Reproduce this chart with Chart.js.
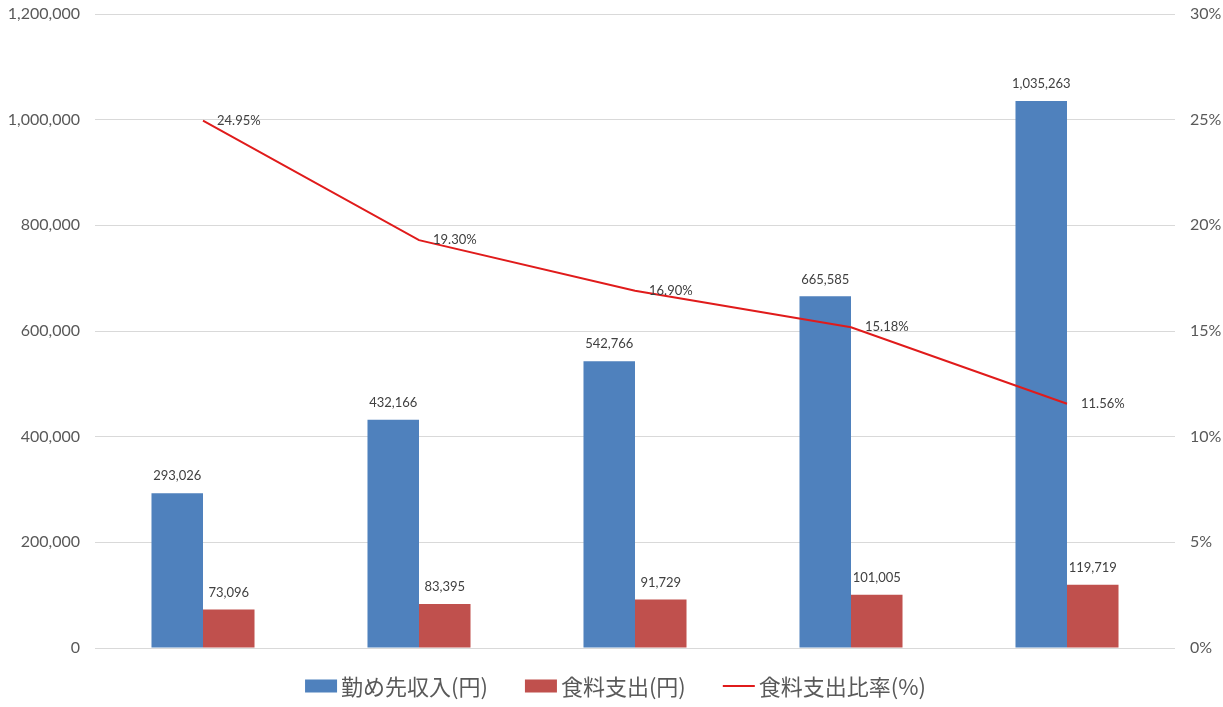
<!DOCTYPE html>
<html lang="ja">
<head>
  <meta charset="UTF-8">
  <title>勤め先収入と食料支出</title>
  <script src="https://cdn.jsdelivr.net/npm/chart.js"></script>
  <style>
    html, body { margin: 0; padding: 0; background: #fff; }
    canvas { display: block; }
  </style>
</head>
<body>
<canvas id="chart" width="1223" height="707"></canvas>
<script>
  // data
  const categories = ['I', 'II', 'III', 'IV', 'V'];
  const incomeYen = [293026, 432166, 542766, 665585, 1035263];
  const foodYen = [73096, 83395, 91729, 101005, 119719];
  const foodRatio = [24.95, 19.30, 16.90, 15.18, 11.56];
  const leftTicks = [0, 200000, 400000, 600000, 800000, 1000000, 1200000];
  const rightTicks = [0, 5, 10, 15, 20, 25, 30];

  const numFont = "Lato, 'Noto Sans', sans-serif";
  const jpFont = "'Noto Sans CJK JP', 'Noto Sans', sans-serif";

  // value labels above bars / right of line points
  const valueLabels = {
    id: 'valueLabels',
    afterDatasetsDraw(chart) {
      const ctx = chart.ctx;
      ctx.save();
      ctx.fillStyle = '#404040';
      ctx.font = '13px ' + numFont;
      ctx.textBaseline = 'middle';
      chart.data.datasets.forEach((ds, i) => {
        const meta = chart.getDatasetMeta(i);
        meta.data.forEach((el, j) => {
          const v = ds.data[j];
          if (ds.type === 'line') {
            ctx.textAlign = 'left';
            ctx.fillText(v.toFixed(2) + '%', el.x + 14, el.y);
          } else {
            ctx.textAlign = 'center';
            ctx.fillText(v.toLocaleString('en-US'), el.x, el.y - 17);
          }
        });
      });
      ctx.restore();
    }
  };

  // legend drawn under the plot, built from the datasets
  const bottomLegend = {
    id: 'bottomLegend',
    afterDraw(chart) {
      const ctx = chart.ctx;
      const y = 686, boxW = 32, boxH = 13, gap = 4, spacing = 37;
      ctx.save();
      ctx.font = '22px ' + jpFont;
      ctx.textBaseline = 'middle';
      ctx.textAlign = 'left';
      const items = chart.data.datasets.map(ds => ({ ds, w: boxW + gap + ctx.measureText(ds.label).width }));
      const total = items.reduce((s, it) => s + it.w, 0) + spacing * (items.length - 1);
      let x = chart.width / 2 + 4 - total / 2;
      items.forEach(it => {
        if (it.ds.type === 'line') {
          ctx.strokeStyle = it.ds.borderColor;
          ctx.lineWidth = 2;
          ctx.beginPath();
          ctx.moveTo(x, y);
          ctx.lineTo(x + boxW, y);
          ctx.stroke();
        } else {
          ctx.fillStyle = it.ds.backgroundColor;
          ctx.fillRect(x, y - boxH / 2, boxW, boxH);
        }
        ctx.fillStyle = '#595959';
        ctx.fillText(it.ds.label, x + boxW + gap, y + 1);
        x += it.w + spacing;
      });
      ctx.restore();
    }
  };

  // fixed axis widths; no extra vertical padding from tick labels
  const fitAxis = w => s => {
    s.width = w;
    s.paddingTop = 0;
    s.paddingBottom = 0;
  };

  new Chart(document.getElementById('chart'), {
    data: {
      labels: categories,
      datasets: [
        {
          type: 'bar',
          label: '勤め先収入(円)',
          data: incomeYen,
          backgroundColor: '#4f81bd',
          yAxisID: 'y',
          order: 1,
          categoryPercentage: 0.477,
          barPercentage: 1
        },
        {
          type: 'bar',
          label: '食料支出(円)',
          data: foodYen,
          backgroundColor: '#c0504d',
          yAxisID: 'y',
          order: 1,
          categoryPercentage: 0.477,
          barPercentage: 1
        },
        {
          type: 'line',
          label: '食料支出比率(%)',
          data: foodRatio,
          borderColor: '#e01b1b',
          borderWidth: 2,
          pointRadius: 0,
          tension: 0,
          yAxisID: 'y1',
          order: 0
        }
      ]
    },
    options: {
      responsive: false,
      animation: false,
      layout: { padding: { top: 14, bottom: 59, left: 0, right: 0 } },
      plugins: {
        legend: { display: false },
        tooltip: { enabled: false }
      },
      scales: {
        x: { display: false, offset: true },
        y: {
          position: 'left',
          min: 0,
          max: 1200000,
          afterBuildTicks: s => { s.ticks = leftTicks.map(v => ({ value: v })); },
          afterFit: fitAxis(95),
          border: { display: false },
          grid: { color: '#d9d9d9', drawTicks: false },
          ticks: {
            padding: 15,
            color: '#595959',
            font: { family: numFont, size: 16 },
            callback: v => v.toLocaleString('en-US')
          }
        },
        y1: {
          position: 'right',
          min: 0,
          max: 30,
          afterBuildTicks: s => { s.ticks = rightTicks.map(v => ({ value: v })); },
          afterFit: fitAxis(48),
          border: { display: false },
          grid: { display: false, drawTicks: false },
          ticks: {
            padding: 15,
            color: '#595959',
            font: { family: numFont, size: 16 },
            callback: v => v + '%'
          }
        }
      }
    },
    plugins: [valueLabels, bottomLegend]
  });
</script>
</body>
</html>
